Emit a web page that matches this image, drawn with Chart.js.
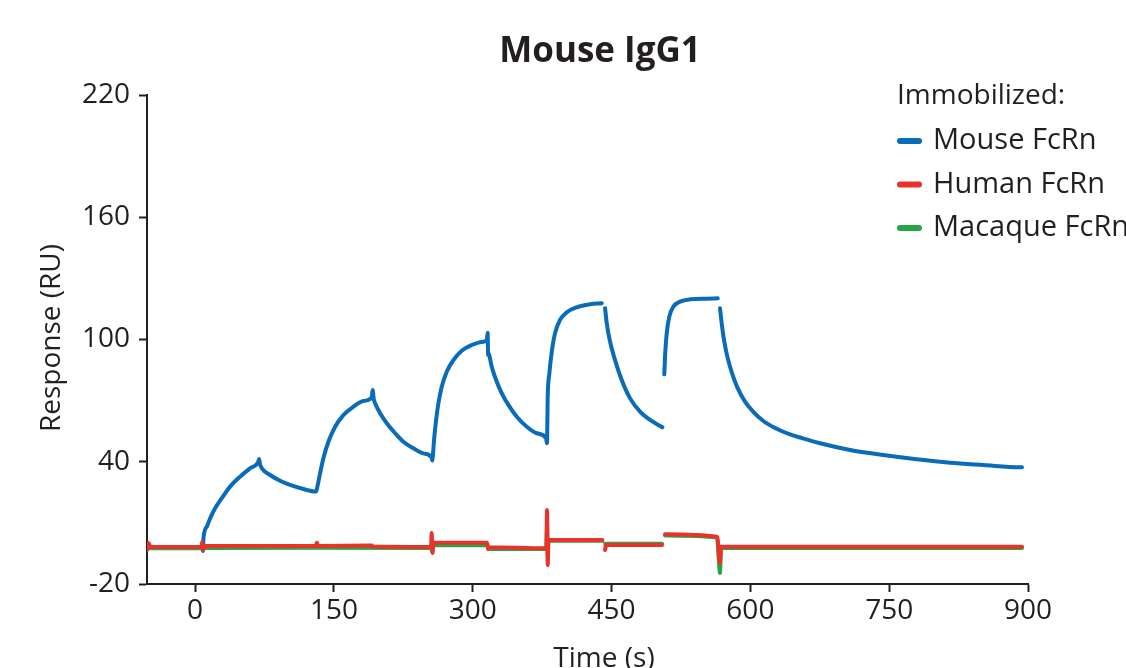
<!DOCTYPE html>
<html>
<head>
<meta charset="utf-8">
<title>Mouse IgG1</title>
<script src="https://cdn.jsdelivr.net/npm/chart.js@4.4.1/dist/chart.umd.min.js"></script>
<style>
  html, body { margin: 0; padding: 0; background: #fff; }
  #wrap { width: 1126px; height: 668px; }
</style>
</head>
<body>
<div id="wrap"><canvas id="sprChart"></canvas></div>
<script>
// Sensorgram readings: time (s) and response (RU); null = gap in the trace
const mouseTime = [-52, -20, 7.6, 8.6, 9.0, 12.6, 16.2, 21.6, 28.8, 37.8, 48.6, 59.4, 68.1, 69.1, 70.2,
  72.1, 81.0, 91.8, 102.6, 117.0, 130.7,
  132.1, 135.0, 138.6, 144.0, 151.3, 160.2, 171.0, 181.8, 190.9, 191.8, 193.0,
  194.5, 199.9, 207.1, 216.1, 225.0, 235.9, 246.7, 255.7, 256.3,
  256.8, 258.2, 260.4, 262.9, 266.5, 271.9, 279.1, 288.1, 298.9, 309.7, 315.1, 316.1, 316.6,
  316.9, 320.5, 325.2, 331.4, 338.5, 347.6, 358.4, 369.2, 379.2, 380.2,
  381.0, 382.8, 385.4, 388.9, 394.3, 401.6, 412.4, 426.7, 439.4, 441.5,
  443.0, 444.8, 448.4, 453.8, 461.0, 470.0, 480.8, 491.6, 504.9, 506,
  507.0, 507.8, 509.6, 512.4, 516.8, 524.0, 534.8, 552.8, 564.7, 566,
  567.2, 569.0, 571.5, 575.1, 579.8, 585.9, 594.2, 603.2, 614.0, 628.4, 642.8, 653.6, 675.3, 707.7, 743.7,
  779.7, 815.7, 851.7, 891.3, 893.5];
const mouseResp = [-1.8, -1.8, -1.8, -3.8, 2.4, 8.1, 12.2, 17.2, 22.1, 27.8, 32.7, 36.8, 39.8, 41.3, 38.6,
  36.8, 33.5, 30.7, 28.6, 26.6, 25.4,
  27.8, 34.3, 41.7, 49.8, 57.2, 62.9, 67.0, 69.8, 71.6, 75.2, 70.8,
  68.7, 63.8, 58.9, 54.0, 49.8, 46.6, 44.1, 42.0, 40.6,
  42.5, 50.7, 60.5, 68.7, 76.8, 84.2, 89.9, 94.5, 97.3, 98.8, 99.4, 103.3, 92.4,
  93.2, 86.7, 80.1, 73.6, 67.9, 62.1, 57.2, 54.0, 51.6, 49.1,
  71.9, 83.4, 94.0, 103.0, 109.6, 113.3, 115.8, 117.3, 117.8, null,
  115.3, 108.0, 98.9, 89.9, 80.1, 71.1, 64.6, 60.5, 56.9, null,
  82.9, 91.6, 103.0, 111.2, 116.1, 118.6, 119.7, 120.0, 120.2, null,
  115.3, 108.0, 99.8, 91.6, 84.0, 76.5, 69.5, 64.5, 60.0, 56.2, 53.4, 51.9, 49.1, 45.8, 43.3,
  41.2, 39.5, 38.4, 37.3, 37.3];

const humanTime = [-51.9, -50.5, -48, 7.0, 7.6, 8.6, 9.7, 70, 130.7, 131.5, 132.5, 191, 192, 255, 255.6, 256.5, 257.5,
  315.5, 316.5, 317.5, 379.5, 380.3, 381.0, 381.8, 440, 441.5, 443, 444, 504.5, 506, 507.8, 564, 567.2, 568.2, 893.5];
const humanResp = [-3.3, 0.1, -1.8, -1.8, 0.6, -3.3, -1.3, -1.3, -1.3, 0.3, -1.3, -1.1, -1.6, -1.8, 5.0, -4.8, 0.3,
  0.3, -2.8, -2.0, -2.5, 16.3, -10.7, 1.6, 1.6, null, -3.3, -0.9, -0.9, null, 4.4, 3.2, -9.7, -1.7, -1.7];

const macaqueTime = [-51.9, 7.6, 8.6, 9.7, 130.7, 255, 256, 257, 315.5, 317, 379.5, 380.3, 381, 381.8, 440, 441.5,
  443, 504.5, 506, 507.8, 564, 567.2, 568.2, 893.5];
const macaqueResp = [-2.5, -2.3, -2.8, -2.3, -2.2, -2.3, -4.0, -1.0, -1.0, -2.8, -2.8, 8.0, -6.0, 1.2, 1.2, null,
  -0.2, -0.2, null, 3.8, 2.8, -14.6, -2.3, -2.3];

const seriesNames = ['Mouse FcRn', 'Human FcRn', 'Macaque FcRn'];
const xTicks = [0, 150, 300, 450, 600, 750, 900];
const yTicks = [-20, 40, 100, 160, 220];

const FONT = '"Open Sans", "Noto Sans", sans-serif';
const INK = '#231f20';

function toPoints(times, values) {
  return times.map((t, i) => ({ x: t, y: values[i] }));
}

// Title, axis titles and the "Immobilized:" legend sit over the plot
const overlayText = {
  id: 'overlayText',
  afterDraw(chart) {
    const ctx = chart.ctx;
    ctx.save();
    ctx.fillStyle = INK;
    ctx.textBaseline = 'middle';

    ctx.font = 'bold 35px ' + FONT;
    ctx.textAlign = 'center';
    ctx.fillText('Mouse IgG1', 600, 52);

    ctx.font = '28px ' + FONT;
    ctx.fillText('Time (s)', 604, 659);

    ctx.save();
    ctx.translate(52, 338);
    ctx.rotate(-Math.PI / 2);
    ctx.fillText('Response (RU)', 0, 0);
    ctx.restore();

    // legend
    ctx.textAlign = 'left';
    ctx.fillText('Immobilized:', 897, 96);
    ctx.font = '29px ' + FONT;
    chart.data.datasets.forEach((ds, i) => {
      const y = 141 + i * 43.5;
      ctx.strokeStyle = ds.borderColor;
      ctx.lineWidth = 6;
      ctx.lineCap = 'round';
      ctx.beginPath();
      ctx.moveTo(900, y);
      ctx.lineTo(919, y);
      ctx.stroke();
      ctx.fillStyle = INK;
      ctx.fillText(ds.label, 933, y);
    });
    ctx.restore();
  }
};

new Chart(document.getElementById('sprChart'), {
  type: 'line',
  data: {
    datasets: [
      {
        label: seriesNames[0],
        data: toPoints(mouseTime, mouseResp),
        borderColor: '#0a6bb8',
        borderWidth: 4,
        order: 1
      },
      {
        label: seriesNames[1],
        data: toPoints(humanTime, humanResp),
        borderColor: '#e8322a',
        borderWidth: 4,
        order: 0
      },
      {
        label: seriesNames[2],
        data: toPoints(macaqueTime, macaqueResp),
        borderColor: '#27a546',
        borderWidth: 4,
        order: 2
      }
    ]
  },
  options: {
    responsive: true,
    maintainAspectRatio: false,
    animation: false,
    spanGaps: false,
    elements: {
      point: { radius: 0 },
      line: { cubicInterpolationMode: 'monotone', borderCapStyle: 'round', borderJoinStyle: 'round' }
    },
    layout: { padding: { left: 0, top: 95, right: 98, bottom: 0 } },
    plugins: {
      legend: { display: false },
      tooltip: { enabled: false }
    },
    scales: {
      x: {
        type: 'linear',
        min: -52,
        max: 900,
        afterBuildTicks: (scale) => { scale.ticks = xTicks.map(v => ({ value: v })); },
        afterFit: (scale) => { scale.height = 84; },
        grid: { drawOnChartArea: false, drawTicks: true, tickLength: 8, tickWidth: 2, tickColor: INK },
        border: { display: true, color: INK, width: 2 },
        ticks: { color: INK, font: { family: FONT, size: 28 }, padding: 2, maxRotation: 0 }
      },
      y: {
        min: -20,
        max: 220,
        afterBuildTicks: (scale) => { scale.ticks = yTicks.map(v => ({ value: v })); },
        afterFit: (scale) => { scale.width = 147; },
        grid: { drawOnChartArea: false, drawTicks: true, tickLength: 8, tickWidth: 2, tickColor: INK },
        border: { display: true, color: INK, width: 2 },
        ticks: { color: INK, font: { family: FONT, size: 28 }, padding: 9 }
      }
    }
  },
  plugins: [overlayText]
});
</script>
</body>
</html>
